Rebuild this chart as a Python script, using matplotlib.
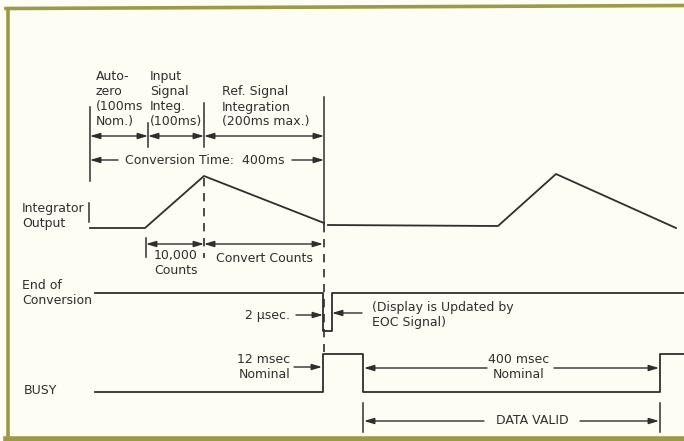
import matplotlib.pyplot as plt

# --- waveform data (diagram units, y grows downward) ---
integ_x = [90, 145, 204, 324]
integ_y = [228, 228, 176, 223]
integ2_x = [328, 498, 556, 676]
integ2_y = [225, 226, 174, 228]

eoc_x = [95, 323, 323, 332, 332, 684]
eoc_y = [293, 293, 331, 331, 293, 293]

busy_x = [95, 323, 323, 363, 363, 660, 660, 684]
busy_y = [392, 392, 354, 354, 392, 392, 354, 354]

# phase boundaries at top
phase_x = [90, 148, 204, 324]
phase_labels = ["Auto-\nzero\n(100ms\nNom.)", "Input\nSignal\nInteg.\n(100ms)",
                "Ref. Signal\nIntegration\n(200ms max.)"]

INK = "#2e2e2e"
BG = "#fdfdf4"
BORDER = "#9c9a45"
FS = 9

fig = plt.figure(figsize=(6.84, 4.41), dpi=100, facecolor=BG)
ax = fig.add_axes([0, 0, 1, 1])
ax.set_xlim(0, 684)
ax.set_ylim(441, 0)
ax.axis("off")
ax.set_facecolor(BG)

# frame
ax.plot([7.5, 7.5], [8, 438], color=BORDER, lw=2.6, solid_capstyle="butt")
ax.plot([6, 684], [8.5, 5.5], color=BORDER, lw=2.6)
ax.plot([6, 684], [438.5, 438.5], color=BORDER, lw=4)


def line(xs, ys, **kw):
    kw.setdefault("color", INK)
    kw.setdefault("lw", 1.3)
    ax.plot(xs, ys, **kw)


def arrow(x0, x1, y, both=True):
    style = "<|-|>" if both else "-|>"
    ax.annotate("", xy=(x1, y), xytext=(x0, y),
                arrowprops=dict(arrowstyle=style + ",head_length=0.6,head_width=0.18",
                                color=INK, lw=1.0, shrinkA=0, shrinkB=0))


def txt(x, y, s, ha="left", va="center", **kw):
    ax.text(x, y, s, ha=ha, va=va, fontsize=FS, color=INK,
            family="DejaVu Sans", linespacing=1.2, **kw)


# top phase markers
line([phase_x[0]] * 2, [107, 181], lw=1.1)
line([phase_x[1]] * 2, [123, 147], lw=1.1)
line([phase_x[2]] * 2, [103, 147], lw=1.1)
line([phase_x[3]] * 2, [97, 224], lw=1.1)

for a, b in zip(phase_x[:-1], phase_x[1:]):
    arrow(a, b, 136)
txt(96, 99, phase_labels[0])
txt(150, 99, phase_labels[1])
txt(222, 107, phase_labels[2])

arrow(118, phase_x[0], 160, both=False)
arrow(292, phase_x[3], 160, both=False)
txt(205, 160, "Conversion Time:  400ms", ha="center")

# integrator output
txt(22, 216, "Integrator\nOutput")
line([89, 89], [203, 222], lw=1.1)
line(integ_x, integ_y)
line(integ2_x, integ2_y)

# dashed guides
line([204, 204], [178, 258], lw=1.2, ls=(0, (5, 4)))
line([324, 324], [224, 352], lw=1.2, ls=(0, (5, 4)))

# counts
line([146, 146], [238, 257], lw=1.1)
arrow(146, 204, 244)
arrow(204, 323, 244)
txt(176, 263, "10,000\nCounts", ha="center")
txt(264, 258, "Convert Counts", ha="center")

# end of conversion
txt(22, 293, "End of\nConversion")
line(eoc_x, eoc_y)
txt(290, 315, "2 \u03bcsec.", ha="right")
arrow(296, 323, 315, both=False)
arrow(362, 332, 313, both=False)
txt(372, 315, "(Display is Updated by\nEOC Signal)")

# busy
txt(24, 390, "BUSY")
line(busy_x, busy_y)
txt(290, 367, "12 msec\nNominal", ha="right")
arrow(294, 322, 367, both=False)
txt(519, 367, "400 msec\nNominal", ha="center")
arrow(487, 364, 368, both=False)
arrow(554, 659, 368, both=False)

# data valid
line([363, 363], [403, 432], lw=1.1)
line([660, 660], [403, 432], lw=1.1)
arrow(484, 364, 421, both=False)
arrow(580, 659, 421, both=False)
txt(532, 421, "DATA VALID", ha="center")

fig.savefig("out.png", dpi=100, facecolor=BG)
